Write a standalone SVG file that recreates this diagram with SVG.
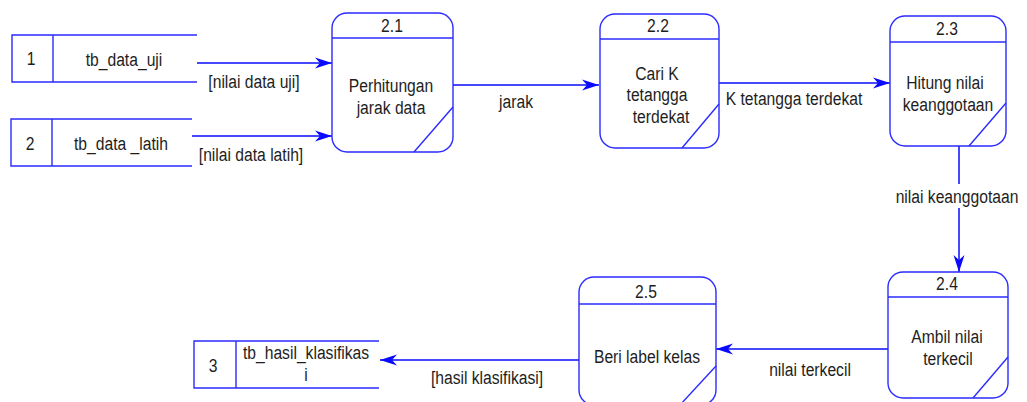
<svg xmlns="http://www.w3.org/2000/svg" width="1027" height="402" viewBox="0 0 1027 402">
  <style>
    .bg { fill: #ffffff; }
    .proc { fill: #ffffff; stroke: #2b2bff; stroke-width: 1.4; }
    .edge { fill: none; stroke: #2b2bff; stroke-width: 1.4; }
    .flow { fill: none; stroke: #0a0aff; stroke-width: 1.5; }
    .t { font-family: "Liberation Sans", Arial, sans-serif; font-size: 18px; fill: #1e1e1e; text-anchor: middle; }
  </style>
  <defs>
    <marker id="arr" markerUnits="userSpaceOnUse" markerWidth="20" markerHeight="14" viewBox="-18 -7 20 14" refX="0" refY="0" orient="auto">
      <path d="M0,0 L-17,-5.5 L-12,0 L-17,5.5 Z" fill="#0a0aff"/>
    </marker>
  </defs>
  <rect class="bg" x="0" y="0" width="1027" height="402"/>

  <!-- data flows (labels use a horizontally narrowed Arial-style face) -->
  <g id="connectors">
    <line class="flow" x1="197" y1="63" x2="332" y2="63" marker-end="url(#arr)"/>
    <line class="flow" x1="192" y1="136" x2="332" y2="136" marker-end="url(#arr)"/>
    <line class="flow" x1="453" y1="85" x2="599" y2="85" marker-end="url(#arr)"/>
    <line class="flow" x1="719" y1="83" x2="890" y2="83" marker-end="url(#arr)"/>
    <line class="flow" x1="959" y1="146" x2="959" y2="272" marker-end="url(#arr)"/>
    <line class="flow" x1="888" y1="349" x2="716" y2="349" marker-end="url(#arr)"/>
    <line class="flow" x1="579" y1="360" x2="380" y2="360" marker-end="url(#arr)"/>

    <text class="t" transform="translate(254,88) scale(0.87,1)">[nilai data uji]</text>
    <text class="t" transform="translate(251,161) scale(0.87,1)">[nilai data latih]</text>
    <text class="t" transform="translate(516,108) scale(0.87,1)">jarak</text>
    <text class="t" transform="translate(794,105) scale(0.87,1)">K tetangga terdekat</text>
    <rect x="895" y="184" width="126" height="24" fill="#ffffff"/>
    <text class="t" transform="translate(957,203) scale(0.87,1)">nilai keanggotaan</text>
    <text class="t" transform="translate(810,376) scale(0.87,1)">nilai terkecil</text>
    <text class="t" transform="translate(487,384) scale(0.87,1)">[hasil klasifikasi]</text>
  </g>

  <!-- data stores -->
  <g id="store-1">
    <path class="edge" d="M197,35 H12 V82 H197 M53,35 V82"/>
    <text class="t" transform="translate(31,65) scale(0.87,1)">1</text>
    <text class="t" transform="translate(124,66) scale(0.87,1)">tb_data_uji</text>
  </g>
  <g id="store-2">
    <path class="edge" d="M192,119 H11 V166 H192 M52,119 V166"/>
    <text class="t" transform="translate(30,150) scale(0.87,1)">2</text>
    <text class="t" transform="translate(121,150) scale(0.87,1)">tb_data _latih</text>
  </g>
  <g id="store-3">
    <path class="edge" d="M379,341 H194 V388 H379 M236,341 V388"/>
    <text class="t" transform="translate(213,372) scale(0.87,1)">3</text>
    <text class="t" transform="translate(306,359) scale(0.87,1)">tb_hasil_klasifikas</text>
    <text class="t" transform="translate(306,381) scale(0.87,1)">i</text>
  </g>

  <!-- processes -->
  <g id="proc-2-1">
    <rect class="proc" x="332" y="13" width="121" height="139" rx="15" ry="15"/>
    <line class="edge" x1="332" y1="38" x2="453" y2="38"/>
    <line class="edge" x1="414" y1="152" x2="453" y2="107"/>
    <text class="t" transform="translate(392,32) scale(0.87,1)">2.1</text>
    <text class="t" transform="translate(391,92) scale(0.87,1)">Perhitungan</text>
    <text class="t" transform="translate(391,114) scale(0.87,1)">jarak data</text>
  </g>
  <g id="proc-2-2">
    <rect class="proc" x="600" y="14" width="119" height="134" rx="15" ry="15"/>
    <line class="edge" x1="600" y1="39" x2="719" y2="39"/>
    <line class="edge" x1="682" y1="148" x2="719" y2="104"/>
    <text class="t" transform="translate(658,32) scale(0.87,1)">2.2</text>
    <text class="t" transform="translate(657,80) scale(0.87,1)">Cari K</text>
    <text class="t" transform="translate(657,101) scale(0.87,1)">tetangga</text>
    <text class="t" transform="translate(661,123) scale(0.87,1)">terdekat</text>
  </g>
  <g id="proc-2-3">
    <rect class="proc" x="890" y="16" width="116" height="130" rx="15" ry="15"/>
    <line class="edge" x1="890" y1="42" x2="1006" y2="42"/>
    <line class="edge" x1="969" y1="146" x2="1006" y2="103"/>
    <text class="t" transform="translate(947,35) scale(0.87,1)">2.3</text>
    <text class="t" transform="translate(945,89) scale(0.87,1)">Hitung nilai</text>
    <text class="t" transform="translate(948,111) scale(0.87,1)">keanggotaan</text>
  </g>
  <g id="proc-2-4">
    <rect class="proc" x="888" y="272" width="120" height="126" rx="15" ry="15"/>
    <line class="edge" x1="888" y1="297" x2="1008" y2="297"/>
    <line class="edge" x1="973" y1="398" x2="1008" y2="357"/>
    <text class="t" transform="translate(947,290) scale(0.87,1)">2.4</text>
    <text class="t" transform="translate(947,343) scale(0.87,1)">Ambil nilai</text>
    <text class="t" transform="translate(948,365) scale(0.87,1)">terkecil</text>
  </g>
  <g id="proc-2-5">
    <rect class="proc" x="579" y="277" width="137" height="128" rx="15" ry="15"/>
    <line class="edge" x1="579" y1="304" x2="716" y2="304"/>
    <line class="edge" x1="680" y1="405" x2="716" y2="366"/>
    <text class="t" transform="translate(646,298) scale(0.87,1)">2.5</text>
    <text class="t" transform="translate(647,363) scale(0.87,1)">Beri label kelas</text>
  </g>
</svg>
